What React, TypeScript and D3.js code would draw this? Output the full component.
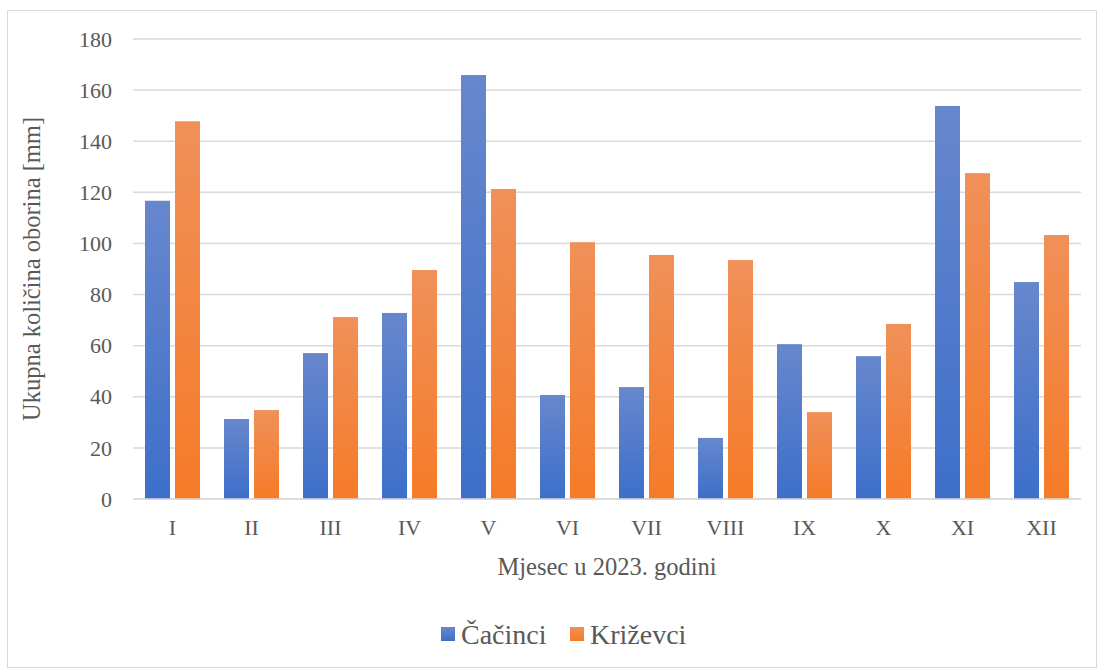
import { useEffect, useRef } from "react";
import * as d3 from "d3";

const months = ["I", "II", "III", "IV", "V", "VI", "VII", "VIII", "IX", "X", "XI", "XII"];
const cacinci = [116.7, 31.3, 57.1, 72.8, 165.9, 40.7, 43.8, 23.9, 60.6, 55.9, 153.8, 84.9];
const krizevci = [147.8, 34.8, 71.2, 89.6, 121.3, 100.5, 95.5, 93.5, 34.0, 68.5, 127.5, 103.3];
const seriesNames = ["Čačinci", "Križevci"];
const yTicks = [0, 20, 40, 60, 80, 100, 120, 140, 160, 180];

const W = 1098;
const H = 668;
const font = "'Liberation Serif', 'Times New Roman', serif";
const textColor = "#595959";

const App = () => {
  const svgRef = useRef<SVGSVGElement>(null);

  useEffect(() => {
    const svg = d3.select(svgRef.current);
    svg.selectAll("*").remove();

    const margin = { top: 39, right: 17, bottom: 169, left: 133 };
    const innerW = W - margin.left - margin.right;
    const innerH = H - margin.top - margin.bottom;

    // gradients like Excel's default bar fill
    const defs = svg.append("defs");
    const grads = [
      { id: "gBlue", top: "#6787cd", bottom: "#3d6fc9" },
      { id: "gOrange", top: "#f09059", bottom: "#f57b28" },
    ];
    grads.forEach((g) => {
      const lg = defs
        .append("linearGradient")
        .attr("id", g.id)
        .attr("x1", 0)
        .attr("y1", 0)
        .attr("x2", 0)
        .attr("y2", 1);
      lg.append("stop").attr("offset", "0%").attr("stop-color", g.top);
      lg.append("stop").attr("offset", "100%").attr("stop-color", g.bottom);
    });

    // chart border
    svg
      .append("rect")
      .attr("x", 7.5)
      .attr("y", 10.5)
      .attr("width", W - 9)
      .attr("height", H - 11)
      .attr("fill", "white")
      .attr("stroke", "#d9d9d9");

    const g = svg.append("g").attr("transform", `translate(${margin.left},${margin.top})`);

    const x0 = d3.scaleBand().domain(months).range([0, innerW]).padding(0);
    const bw = x0.bandwidth();
    const x1 = d3
      .scaleBand()
      .domain(seriesNames)
      .range([(bw * 12) / 79, (bw * 67) / 79])
      .paddingInner(1 / 6)
      .paddingOuter(0);

    const y = d3.scaleLinear().domain([0, 180]).range([innerH, 0]);

    // gridlines
    g.selectAll(".grid")
      .data(yTicks)
      .join("line")
      .attr("x1", 0)
      .attr("x2", innerW)
      .attr("y1", (d) => y(d))
      .attr("y2", (d) => y(d))
      .attr("stroke", "#d9d9d9")
      .attr("stroke-width", 1.5);

    // y tick labels
    g.selectAll(".ytick")
      .data(yTicks)
      .join("text")
      .attr("x", -21)
      .attr("y", (d) => y(d))
      .attr("dy", "0.35em")
      .attr("text-anchor", "end")
      .attr("font-family", font)
      .attr("font-size", 22)
      .attr("fill", textColor)
      .text((d) => d);

    const data = months.map((m, i) => ({ m, vals: [cacinci[i], krizevci[i]] }));

    const groups = g
      .selectAll(".grp")
      .data(data)
      .join("g")
      .attr("transform", (d) => `translate(${x0(d.m)},0)`);

    groups
      .selectAll("rect")
      .data((d) => d.vals.map((v, j) => ({ v, s: seriesNames[j], j })))
      .join("rect")
      .attr("x", (d) => x1(d.s)!)
      .attr("width", x1.bandwidth())
      .attr("y", (d) => y(d.v))
      .attr("height", (d) => innerH - y(d.v))
      .attr("fill", (d) => (d.j === 0 ? "url(#gBlue)" : "url(#gOrange)"));

    // x axis line
    g.append("line")
      .attr("x1", 0)
      .attr("x2", innerW)
      .attr("y1", innerH)
      .attr("y2", innerH)
      .attr("stroke", "#d9d9d9")
      .attr("stroke-width", 1.5);

    // x tick labels
    g.selectAll(".xtick")
      .data(months)
      .join("text")
      .attr("x", (d) => x0(d)! + bw / 2)
      .attr("y", innerH + 28)
      .attr("dy", "0.35em")
      .attr("text-anchor", "middle")
      .attr("font-family", font)
      .attr("font-size", 22)
      .attr("fill", textColor)
      .text((d) => d);

    // axis titles
    svg
      .append("text")
      .attr("x", margin.left + innerW / 2)
      .attr("y", 566)
      .attr("dy", "0.35em")
      .attr("text-anchor", "middle")
      .attr("font-family", font)
      .attr("font-size", 24.5)
      .attr("fill", textColor)
      .text("Mjesec u 2023. godini");

    svg
      .append("text")
      .attr("transform", `translate(31,${margin.top + innerH / 2}) rotate(-90)`)
      .attr("dy", "0.35em")
      .attr("text-anchor", "middle")
      .attr("font-family", font)
      .attr("font-size", 24.5)
      .attr("fill", textColor)
      .text("Ukupna količina oborina [mm]");

    // legend
    const legendX = [441, 570];
    const legend = svg
      .selectAll(".leg")
      .data(seriesNames)
      .join("g")
      .attr("transform", (d, i) => `translate(${legendX[i]},627)`);
    legend
      .append("rect")
      .attr("width", 14)
      .attr("height", 14)
      .attr("fill", (d, i) => (i === 0 ? "url(#gBlue)" : "url(#gOrange)"));
    legend
      .append("text")
      .attr("x", 20)
      .attr("y", 7)
      .attr("dy", "0.35em")
      .attr("font-family", font)
      .attr("font-size", 28)
      .attr("fill", textColor)
      .text((d) => d);
  }, []);

  return (
    <svg
      ref={svgRef}
      width={W}
      height={H}
      style={{ position: "absolute", left: 0, top: 0, display: "block" }}
    />
  );
};

export default App;
